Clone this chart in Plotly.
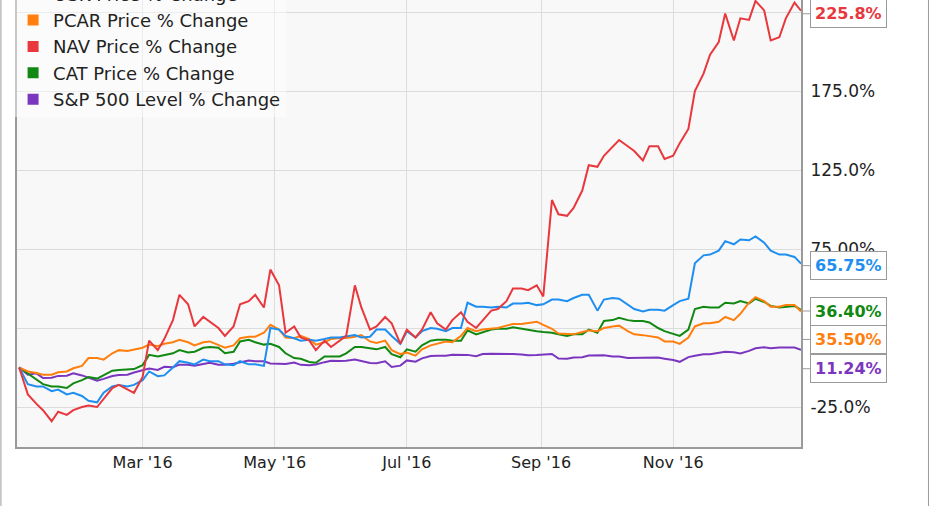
"""Price % change of truck makers vs the S&P 500, 2016 (YCharts-style line chart)."""

import plotly.graph_objects as go

DATES = [
    "2016-01-04", "2016-01-08", "2016-01-12", "2016-01-15", "2016-01-19", "2016-01-22", "2016-01-26", "2016-01-29",
    "2016-02-02", "2016-02-05", "2016-02-09", "2016-02-12", "2016-02-16", "2016-02-19", "2016-02-23", "2016-02-26",
    "2016-03-01", "2016-03-04", "2016-03-08", "2016-03-11", "2016-03-15", "2016-03-18", "2016-03-22", "2016-03-25", "2016-03-29",
    "2016-04-01", "2016-04-05", "2016-04-08", "2016-04-12", "2016-04-15", "2016-04-19", "2016-04-22", "2016-04-26", "2016-04-29",
    "2016-05-03", "2016-05-06", "2016-05-10", "2016-05-13", "2016-05-17", "2016-05-20", "2016-05-24", "2016-05-27", "2016-05-31",
    "2016-06-03", "2016-06-07", "2016-06-10", "2016-06-14", "2016-06-17", "2016-06-21", "2016-06-24", "2016-06-28",
    "2016-07-01", "2016-07-05", "2016-07-08", "2016-07-12", "2016-07-15", "2016-07-19", "2016-07-22", "2016-07-26", "2016-07-29",
    "2016-08-02", "2016-08-05", "2016-08-09", "2016-08-12", "2016-08-16", "2016-08-19", "2016-08-23", "2016-08-26", "2016-08-30",
    "2016-09-02", "2016-09-06", "2016-09-09", "2016-09-13", "2016-09-16", "2016-09-20", "2016-09-23", "2016-09-27", "2016-09-30",
    "2016-10-04", "2016-10-07", "2016-10-11", "2016-10-14", "2016-10-18", "2016-10-21", "2016-10-25", "2016-10-28",
    "2016-11-01", "2016-11-04", "2016-11-08", "2016-11-11", "2016-11-15", "2016-11-18", "2016-11-22", "2016-11-25", "2016-11-29",
    "2016-12-02", "2016-12-06", "2016-12-09", "2016-12-13", "2016-12-16", "2016-12-20", "2016-12-23", "2016-12-27", "2016-12-30",
]

OSK = [
    0, -10.5, -12, -12, -15, -14, -17, -16,
    -18, -21, -22, -16, -12, -11, -12, -11,
    -8, -2.5, -5.5, -5, 0, 4, 3, 2, 5,
    4, 4, 2, 1.5, 4, 2, 2, 1, 25,
    24, 20, 18.5, 17, 17.5, 17, 18, 19, 19,
    19.5, 20.5, 19, 19.5, 24, 24, 20, 15,
    23, 19, 23, 25, 24.5, 23, 25, 25, 41,
    38.5, 38.5, 38, 38.5, 38, 40.5, 40.5, 41, 39.5,
    40, 43, 43, 42, 44, 46, 46, 36, 43,
    44, 43.5, 40, 37, 35.5, 36.5, 36.5, 36,
    39.5, 42, 43.5, 66, 71, 71.5, 74, 80, 78,
    81, 80.5, 83, 79, 74, 71.5, 71.5, 70, 65.75,
]

PCAR = [
    0, -2.5, -3.5, -4.5, -4.5, -3, -2.5, -0.5,
    1, 6, 6, 5, 9, 11, 10.5, 11.5,
    12.5, 14.5, 13.5, 15, 16, 17.5, 16, 14, 16,
    16.5, 14.5, 12.5, 14, 18.5, 19.5, 19.5, 22, 27,
    24, 19, 18.5, 20, 18, 14.5, 16, 18, 18.7,
    18.7, 19.5, 20.5, 16.5, 15.5, 17, 11, 8.5,
    9.5, 7.5, 11.5, 14, 15, 16.5, 16, 20, 25,
    23, 24, 24.5, 25, 26.5, 27.5, 27.5, 28, 29,
    27, 24.5, 21.5, 21, 21, 22.5, 23.5, 23, 25,
    26, 26.5, 23, 21, 20.5, 20, 19, 16.5,
    16.5, 15, 19, 26, 28, 28, 29, 32, 30,
    34, 41, 44.5, 42, 38.5, 38.5, 39.5, 39.5, 35.5,
]

NAV = [
    0, -17, -23, -27, -34, -28, -30, -27,
    -25, -24, -25, -20, -13, -11, -14, -16,
    -6, 17, 11, 18, 30, 46, 40, 26, 32,
    29, 25, 20, 26, 40, 42, 46, 38, 62,
    52, 22, 26, 19, 17, 11, 17, 13, 17,
    20, 52, 38, 24, 26, 32, 28, 15,
    24, 19, 24, 35, 28, 24, 30, 35, 29,
    25, 30, 36, 37, 42, 50, 50, 49, 52,
    45, 106, 97, 96, 101, 112, 128, 127, 134,
    140, 144, 140, 137, 131, 140, 140, 132,
    134, 142, 151, 175, 186, 198, 206, 224, 207,
    221, 220, 232, 226, 207, 209, 221, 231, 225.8,
]

CAT = [
    0, -4, -8, -10.5, -12, -12, -13, -10,
    -8, -6, -7, -5, -2, -1.5, -1, -1,
    1.5, 8, 7, 8, 9, 11, 9.5, 10, 12.5,
    13, 12.5, 9, 10, 16.5, 17.5, 16, 14.5, 15,
    13, 9, 6, 5.5, 3.5, 3, 7, 7, 7,
    9, 13, 13, 12, 11.5, 13, 8.5, 6.5,
    11.5, 10, 14, 17, 17.5, 17.5, 17, 17, 23.5,
    21, 22.5, 24, 24.5, 24.5, 25.5, 24.5, 24, 23,
    22.5, 22, 21, 20, 21, 21, 24, 22, 29.5,
    30, 31.5, 30, 29.5, 29.5, 28.5, 25, 23,
    21, 20, 24, 37, 38.5, 38, 38, 41, 40.5,
    42, 40.5, 43.5, 41.5, 39, 38, 38.5, 39, 36.4,
]

SPX = [
    0, -4.5, -3.7, -6.6, -6.5, -5.3, -5.2, -3.6,
    -5, -6.6, -8.3, -7.2, -5.4, -4.7, -4.6, -3.2,
    -1.7, -0.7, -1.5, 0.5, 0.2, 1.8, 1.7, 1.1, 2.2,
    3, 1.7, 1.7, 2.4, 3.4, 4.4, 3.9, 3.9, 2.6,
    2.5, 2.2, 3.2, 1.7, 1.5, 1.9, 3.4, 4.3, 4.2,
    4.3, 5.1, 4.1, 2.9, 2.7, 3.9, 0.4, 1.2,
    4.5, 3.7, 5.8, 7.3, 7.4, 7.5, 8.1, 8.1, 8,
    7.2, 8.5, 8.7, 8.5, 8.3, 8.5, 8.3, 7.8, 7.9,
    8.3, 8.6, 5.7, 5.5, 6.3, 6.5, 7.6, 7.4, 7.7,
    7, 7, 6, 6, 6.3, 6.4, 6.3, 5.6,
    4.8, 3.6, 6.6, 7.5, 8.4, 8.4, 9.4, 10, 9.6,
    8.9, 10.5, 12.2, 12.8, 12.2, 12.7, 12.5, 12.6, 11.24,
]

# (legend name, values, colour, vertical nudge of the end label in px)
SERIES = [
    ("OSK Price % Change", OSK, "#1e8ff0", -2),
    ("PCAR Price % Change", PCAR, "#ff7f0e", -28),
    ("NAV Price % Change", NAV, "#e8383d", -3),
    ("CAT Price % Change", CAT, "#118811", -1),
    ("S&P 500 Level % Change", SPX, "#7b36c0", -19),
]
DRAW_ORDER = [4, 3, 1, 0, 2]

FONT = "DejaVu Sans, Verdana, sans-serif"
PLOT_BG = "#f8f8f8"
GRID = "#dcdcdc"
FRAME = "#9a9a9a"


def _end_label(value: float) -> str:
    return f"{value:.1f}%" if abs(value) >= 100 else f"{value:.2f}%"


fig = go.Figure()

for idx in DRAW_ORDER:
    name, values, color, _ = SERIES[idx]
    fig.add_trace(
        go.Scatter(
            x=DATES,
            y=values,
            mode="lines",
            name=name,
            line=dict(color=color, width=2),
            showlegend=False,
        )
    )

# square legend swatches, like the original
for name, _, color, _ in SERIES:
    fig.add_trace(
        go.Scatter(
            x=[None],
            y=[None],
            mode="markers",
            name=name,
            marker=dict(symbol="square", size=11, color=color),
        )
    )

for name, values, color, nudge in SERIES:
    fig.add_annotation(
        x=1,
        xref="paper",
        y=values[-1],
        yref="y",
        yshift=nudge,
        xshift=2,
        text=f"<b>{_end_label(values[-1])}</b>",
        showarrow=True,
        arrowhead=0,
        arrowwidth=1,
        arrowcolor=FRAME,
        ax=45,
        ay=0,
        bgcolor="white",
        bordercolor=FRAME,
        borderwidth=1,
        borderpad=4,
        font=dict(family=FONT, size=16, color=color),
    )

# thin frame around the whole picture
fig.add_shape(
    type="rect",
    xref="paper",
    yref="paper",
    x0=-0.0205,
    x1=1.1626,
    y0=-0.2,
    y1=1.05,
    line=dict(color=FRAME, width=1),
    fillcolor="rgba(0,0,0,0)",
    layer="above",
)

fig.update_layout(
    width=931,
    height=506,
    margin=dict(l=17, r=130, t=0, b=59, autoexpand=False),
    paper_bgcolor="white",
    plot_bgcolor=PLOT_BG,
    font=dict(family=FONT, size=17, color="#222222"),
    legend=dict(
        x=-0.005,
        y=1.055,
        xanchor="left",
        yanchor="top",
        bgcolor="rgba(255,255,255,0.45)",
        font=dict(family=FONT, size=18, color="#222222"),
        itemclick=False,
    ),
    xaxis=dict(
        type="date",
        range=["2016-01-03", "2016-12-30"],
        tick0="2016-01-01",
        dtick="M2",
        tickformat="%b '%y",
        showgrid=True,
        gridcolor=GRID,
        gridwidth=1,
        showline=True,
        linecolor=FRAME,
        linewidth=2,
        zeroline=False,
        ticks="",
        tickfont=dict(family=FONT, size=16, color="#222222"),
    ),
    yaxis=dict(
        side="right",
        range=[-50.3, 232.6],
        tickvals=[-25, 25, 75, 125, 175, 225],
        ticktext=["-25.0%", "25.0%", "75.00%", "125.0%", "175.0%", "225.0%"],
        showgrid=True,
        gridcolor=GRID,
        gridwidth=1,
        showline=True,
        mirror=True,
        linecolor=FRAME,
        linewidth=2,
        zeroline=False,
        ticks="",
        ticklabelstandoff=4,
        tickfont=dict(family=FONT, size=17, color="#222222"),
    ),
)

# the page's default body margin would push the figure 8px off the window corner
fig.write_html(
    "out.html",
    config={"displayModeBar": False},
    post_script="document.body.style.margin = '0';",
)
